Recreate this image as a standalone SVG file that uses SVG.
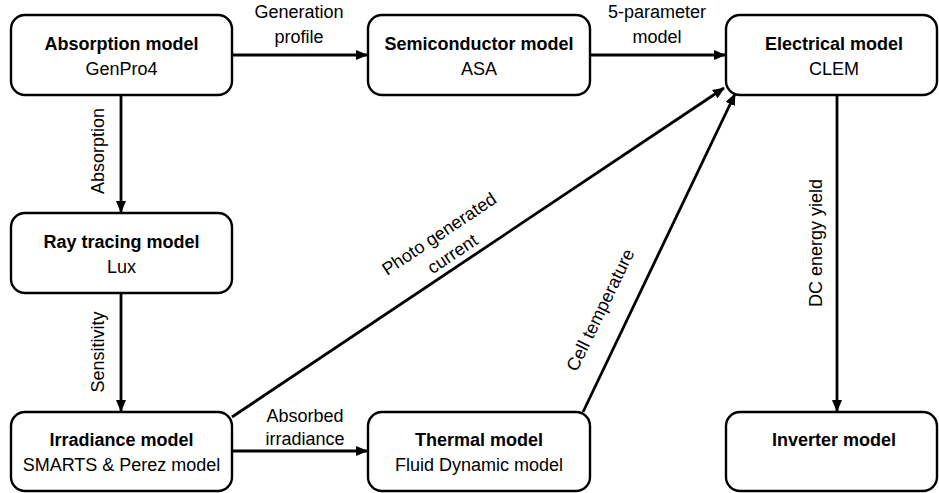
<svg xmlns="http://www.w3.org/2000/svg" width="939" height="493" viewBox="0 0 939 493">
  <style>
    .box { fill: #ffffff; stroke: #000000; stroke-width: 2.4; }
    .title { font-family: "Liberation Sans", Arial, sans-serif; font-size: 18px; font-weight: bold; text-anchor: middle; fill: #000; }
    .sub { font-family: "Liberation Sans", Arial, sans-serif; font-size: 18px; text-anchor: middle; fill: #000; }
    .lbl { font-family: "Liberation Sans", Arial, sans-serif; font-size: 18px; text-anchor: middle; fill: #000; }
    .edge { fill: none; stroke: #000000; stroke-width: 2.8; marker-end: url(#arrow); }
  </style>
  <defs>
    <marker id="arrow" markerUnits="userSpaceOnUse" markerWidth="12" markerHeight="10" refX="11" refY="5" orient="auto">
      <path d="M0,0 L12,5 L0,10 z" fill="#000000"/>
    </marker>
  </defs>
  <rect width="939" height="493" fill="#ffffff"/>

  <g id="connectors">
    <line class="edge" x1="232" y1="55" x2="367" y2="55"/>
    <line class="edge" x1="590" y1="55" x2="725" y2="55"/>
    <line class="edge" x1="121" y1="95" x2="121" y2="212"/>
    <line class="edge" x1="121" y1="293" x2="121" y2="411"/>
    <line class="edge" x1="232" y1="451" x2="367" y2="451"/>
    <line class="edge" x1="837" y1="95" x2="837" y2="411"/>
    <line class="edge" x1="232" y1="417" x2="724" y2="88"/>
    <line class="edge" x1="583" y1="412" x2="735" y2="94"/>

    <text class="lbl" x="299" y="18">Generation</text>
    <text class="lbl" x="299" y="43">profile</text>
    <text class="lbl" x="657" y="18">5-parameter</text>
    <text class="lbl" x="657" y="43">model</text>
    <text class="lbl" transform="translate(104,151) rotate(-90)">Absorption</text>
    <text class="lbl" transform="translate(104,352) rotate(-90)">Sensitivity</text>
    <text class="lbl" transform="translate(822,243) rotate(-90)">DC energy yield</text>
    <text class="lbl" x="305" y="422">Absorbed</text>
    <text class="lbl" x="305" y="445">irradiance</text>
    <g transform="translate(459.7,264.7) rotate(-33.77)">
      <text class="lbl" x="0" y="-31">Photo generated</text>
      <text class="lbl" x="0" y="-7">current</text>
    </g>
    <g transform="translate(613,316) rotate(-64.2)">
      <text class="lbl" x="0" y="-8">Cell temperature</text>
    </g>
  </g>

  <g id="absorption">
    <rect class="box" x="11" y="15" width="221" height="80" rx="14"/>
    <text class="title" x="121.5" y="50">Absorption model</text>
    <text class="sub" x="121.5" y="75">GenPro4</text>
  </g>
  <g id="semiconductor">
    <rect class="box" x="368" y="15" width="222" height="80" rx="14"/>
    <text class="title" x="479" y="50">Semiconductor model</text>
    <text class="sub" x="479" y="75">ASA</text>
  </g>
  <g id="electrical">
    <rect class="box" x="726" y="15" width="211" height="80" rx="14"/>
    <text class="title" x="834" y="50">Electrical model</text>
    <text class="sub" x="834" y="75">CLEM</text>
  </g>
  <g id="raytracing">
    <rect class="box" x="11" y="213" width="221" height="80" rx="14"/>
    <text class="title" x="121.5" y="248">Ray tracing model</text>
    <text class="sub" x="121.5" y="273">Lux</text>
  </g>
  <g id="irradiance">
    <rect class="box" x="11" y="412" width="221" height="79" rx="14"/>
    <text class="title" x="121.5" y="446">Irradiance model</text>
    <text class="sub" x="121.5" y="471">SMARTS &amp; Perez model</text>
  </g>
  <g id="thermal">
    <rect class="box" x="368" y="412" width="222" height="79" rx="14"/>
    <text class="title" x="479" y="446">Thermal model</text>
    <text class="sub" x="479" y="471">Fluid Dynamic model</text>
  </g>
  <g id="inverter">
    <rect class="box" x="726" y="412" width="211" height="79" rx="14"/>
    <text class="title" x="834" y="446">Inverter model</text>
  </g>
</svg>
